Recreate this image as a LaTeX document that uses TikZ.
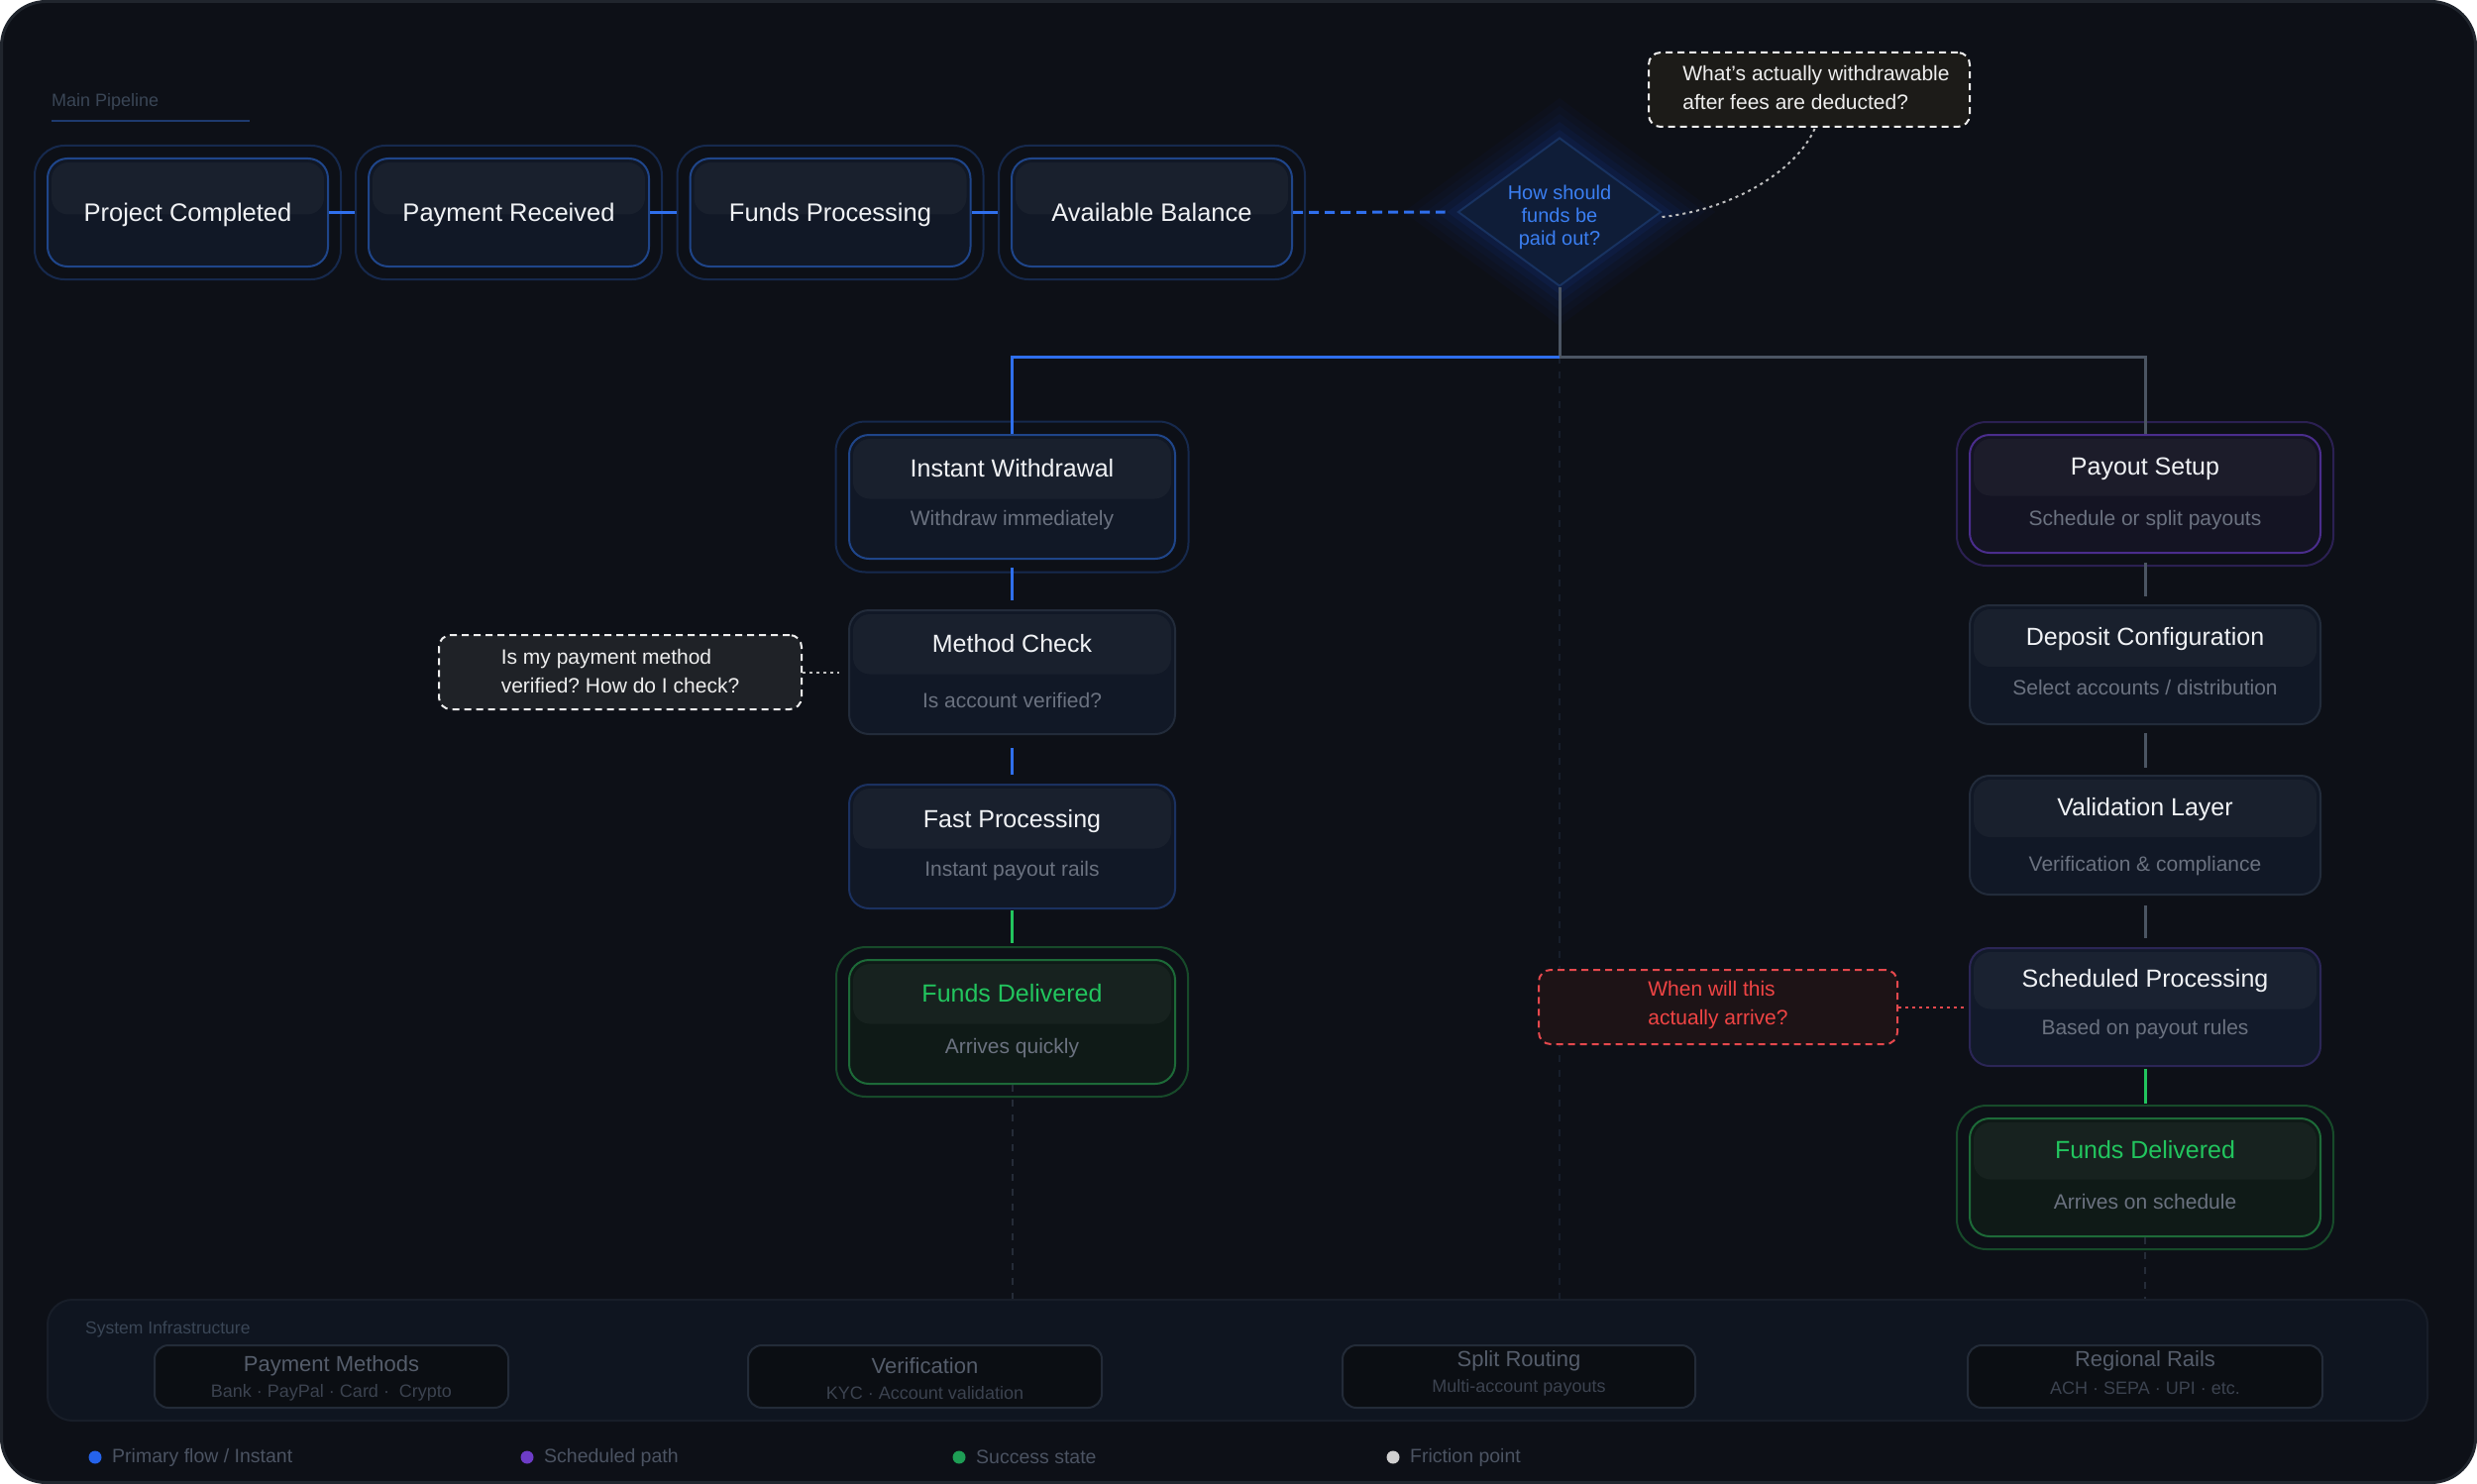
\documentclass[tikz,border=0pt]{standalone}
\usepackage{fontspec}
\setmainfont{Liberation Sans}
\usetikzlibrary{shapes.geometric,fit,calc}
\newcommand\myfs[2]{\fontsize{#1}{#2}\selectfont}
\frenchspacing
\definecolor{bg}{HTML}{0D1017}
\definecolor{frame}{HTML}{20252D}
\definecolor{cardfill}{HTML}{111826}
\definecolor{pblue}{HTML}{1F4589}
\definecolor{phalo}{HTML}{16294D}
\definecolor{fpblue}{HTML}{1B3160}
\definecolor{cgray}{HTML}{222B3A}
\definecolor{pfill}{HTML}{141423}
\definecolor{pborder}{HTML}{4A2D8C}
\definecolor{phalop}{HTML}{2B2052}
\definecolor{spborder}{HTML}{2B2656}
\definecolor{spfill}{HTML}{121A2A}
\definecolor{gfill}{HTML}{0F1A17}
\definecolor{gborder}{HTML}{1D6A38}
\definecolor{ghalo}{HTML}{174A2A}
\definecolor{gtext}{HTML}{22C55E}
\definecolor{ttlc}{HTML}{F0F2F5}
\definecolor{subc}{HTML}{6B7280}
\definecolor{lblue}{HTML}{2F6FED}
\definecolor{lgray}{HTML}{4B5563}
\definecolor{lgreen}{HTML}{22C55E}
\definecolor{diafill}{HTML}{0F1D38}
\definecolor{diaborder}{HTML}{183260}
\definecolor{diatext}{HTML}{3B7FF2}
\definecolor{glowc}{HTML}{1D4ED8}
\definecolor{tcfill}{HTML}{1C1B18}
\definecolor{lcfill}{HTML}{1F2227}
\definecolor{rcfill}{HTML}{1D1316}
\definecolor{redb}{HTML}{E5484D}
\definecolor{redt}{HTML}{EF4444}
\definecolor{cotc}{HTML}{EEEEEE}
\definecolor{infrafill}{HTML}{0F1520}
\definecolor{infraborder}{HTML}{181E29}
\definecolor{ibfill}{HTML}{0B0E13}
\definecolor{ibborder}{HTML}{232B38}
\definecolor{ibttl}{HTML}{555D6B}
\definecolor{ibsub}{HTML}{3C4350}
\definecolor{legc}{HTML}{4B5362}
\definecolor{labc}{HTML}{3A4656}
\definecolor{ulc}{HTML}{1E3A6E}
\definecolor{faintc}{HTML}{252C38}
\definecolor{faintc2}{HTML}{171E2B}
\definecolor{dotblue}{HTML}{2563EB}
\definecolor{dotpurple}{HTML}{6D3CC8}
\definecolor{dotgreen}{HTML}{1E9E55}
\definecolor{dotwhite}{HTML}{D0D0D0}
\begin{document}
\begin{tikzpicture}[x=1pt,y=-1pt,
  bandpic/.style={path picture={\fill[white,fill opacity=0.035,rounded corners=17pt]
     ([xshift=4pt,yshift=-4pt]path picture bounding box.north west) rectangle
     ([xshift=-4pt,yshift=-2pt]path picture bounding box.east);}},
  card/.style={rectangle, rounded corners=20pt, line width=2pt, inner sep=0pt, fill=cardfill, bandpic},
  halo/.style={rectangle, rounded corners=30pt, line width=2pt, inner sep=12pt, fill=none},
  ptxt/.style={font=\myfs{25.5}{30}, text=ttlc, inner sep=0pt, text height=18pt, text depth=0pt},
  ttl/.style={font=\myfs{25}{30}, text=ttlc, inner sep=0pt, text height=18pt, text depth=0pt},
  gttl/.style={ttl, text=gtext},
  subt/.style={font=\myfs{21}{26}, text=subc, inner sep=0pt, text height=15pt, text depth=0pt},
  bline/.style={draw=lblue, line width=3pt},
  gline/.style={draw=lgray, line width=3pt},
  grline/.style={draw=lgreen, line width=3pt},
  faintd/.style={draw=faintc, line width=2pt, dash pattern=on 7pt off 8pt},
  faintd2/.style={draw=faintc2, line width=2pt, dash pattern=on 7pt off 8pt},
  callout/.style={rectangle, rounded corners=12pt, line width=2pt, dash pattern=on 7pt off 5pt, inner sep=0pt},
  cotxt/.style={font=\myfs{21}{29}, align=left, inner sep=0pt},
  dotw/.style={draw=white!75!black, line width=2pt, dash pattern=on 3pt off 4pt},
  dotr/.style={draw=redb, line width=2pt, dash pattern=on 3pt off 4pt},
  ibox/.style={rectangle, rounded corners=14pt, line width=2pt, fill=ibfill, draw=ibborder, inner sep=0pt, minimum height=63pt},
  ibttl/.style={font=\myfs{22}{26}, text=ibttl, inner sep=0pt},
  ibsub/.style={font=\myfs{18}{22}, text=ibsub, inner sep=0pt},
  legtxt/.style={font=\myfs{19.5}{24}, text=legc, inner sep=0pt, anchor=west}
]
\useasboundingbox (0,0) rectangle (2500,1498);
\fill[white] (0,0) rectangle (2500,1498);
\draw[fill=bg, draw=frame, line width=3pt, rounded corners=45pt] (1.5,1.5) rectangle (2498.5,1496.5);

% Main pipeline label
\node[anchor=west, inner sep=0pt, font=\myfs{18}{22}, text=labc] (mpl) at (52,103) {Main Pipeline};
\draw[ulc, line width=2pt] (52,122) -- (252,122);

\coordinate (jn) at (1574,360);

% infrastructure panel
\node[rectangle, rounded corners=25pt, fill=infrafill, draw=infraborder, line width=2pt,
      minimum width=2402pt, minimum height=122pt, inner sep=0pt] (infra) at (1249,1373) {};
\draw[faintd2] (jn) -- (jn |- infra.north);

% pipeline cards
\node[card, draw=pblue, minimum width=283pt, minimum height=109pt] (pc) at (189.5,214.5) {};
\node[ptxt] (pcT) at (pc.center) {Project Completed};
\node[halo, draw=phalo, fit=(pc)] (pcH) {};
\node[card, draw=pblue, minimum width=283pt, minimum height=109pt] (pr) at (513.5,214.5) {};
\node[ptxt] (prT) at (pr.center) {Payment Received};
\node[halo, draw=phalo, fit=(pr)] (prH) {};
\node[card, draw=pblue, minimum width=283pt, minimum height=109pt] (fpr) at (838,214.5) {};
\node[ptxt] (fprT) at (fpr.center) {Funds Processing};
\node[halo, draw=phalo, fit=(fpr)] (fprH) {};
\node[card, draw=pblue, minimum width=283pt, minimum height=109pt] (ab) at (1162.5,214.5) {};
\node[ptxt] (abT) at (ab.center) {Available Balance};
\node[halo, draw=phalo, fit=(ab)] (abH) {};

\draw[bline] (pc.east) -- (prH.west);
\draw[bline] (pr.east) -- (fprH.west);
\draw[bline] (fpr.east) -- (abH.west);

% diamond with glow
\foreach \g/\op in {40/0.03,32/0.035,24/0.045,16/0.06,8/0.08} {
  \fill[glowc, opacity=\op] (1574,139-\g) -- (1676.5+\g*1.37,214) -- (1574,289+\g) -- (1471.5-\g*1.37,214) -- cycle;
}
\node[diamond, aspect=1.37, minimum width=205pt, minimum height=150pt, inner sep=0pt,
      fill=diafill, draw=diaborder, line width=2pt] (dia) at (1574,214) {};
\node[font=\myfs{20}{23}, text=diatext, align=center, inner sep=0pt] (diaT) at (1574,219) {How should\\funds be\\paid out?};
\draw[bline, dash pattern=on 10pt off 6pt] (ab.east) -- ([xshift=-12pt]dia.west);

% top callout
\node[callout, draw=cotc, fill=tcfill, minimum width=324pt, minimum height=75pt] (tc) at (1826,90.5) {};
\node[cotxt, text=cotc] (tcT) at (1833,88) {What's actually withdrawable\\after fees are deducted?};
\draw[dotw] ([yshift=-5pt]dia.east) .. controls (1745,212) and (1812,175) .. ([xshift=6pt]tc.south);

% left column
\node[card, draw=pblue, minimum width=329pt, minimum height=125pt] (iw) at (1021.5,501.5) {};
\node[ttl] (iwT) at ([yshift=-34pt]iw.north) {Instant Withdrawal};
\node[subt] (iwS) at ([yshift=-85pt]iw.north) {Withdraw immediately};
\node[halo, draw=phalo, fit=(iw), inner sep=12.5pt] (iwH) {};

\node[card, draw=cgray, minimum width=329pt, minimum height=125pt] (mc) at (1021.5,678.5) {};
\node[ttl] (mcT) at ([yshift=-34pt]mc.north) {Method Check};
\node[subt] (mcS) at ([yshift=-92pt]mc.north) {Is account verified?};

\node[card, draw=fpblue, minimum width=329pt, minimum height=125pt] (fp) at (1021.5,854.5) {};
\node[ttl] (fpT) at ([yshift=-35pt]fp.north) {Fast Processing};
\node[subt] (fpS) at ([yshift=-86pt]fp.north) {Instant payout rails};

\node[card, draw=gborder, fill=gfill, minimum width=329pt, minimum height=125pt] (fdl) at (1021.5,1031.5) {};
\node[gttl] (fdlT) at ([yshift=-34pt]fdl.north) {Funds Delivered};
\node[subt] (fdlS) at ([yshift=-88pt]fdl.north) {Arrives quickly};
\node[halo, draw=ghalo, fit=(fdl), inner sep=12pt] (fdlH) {};

% right column
\node[card, draw=pborder, fill=pfill, minimum width=354pt, minimum height=119pt] (ps) at (2165,498.5) {};
\node[ttl] (psT) at ([yshift=-32pt]ps.north) {Payout Setup};
\node[subt] (psS) at ([yshift=-85pt]ps.north) {Schedule or split payouts};
\node[halo, draw=phalop, fit=(ps), inner sep=12pt] (psH) {};

\node[card, draw=cgray, minimum width=354pt, minimum height=120pt] (dc) at (2165,671) {};
\node[ttl] (dcT) at ([yshift=-32pt]dc.north) {Deposit Configuration};
\node[subt] (dcS) at ([yshift=-84pt]dc.north) {Select accounts / distribution};

\node[card, draw=cgray, minimum width=354pt, minimum height=120pt] (vl) at (2165,843) {};
\node[ttl] (vlT) at ([yshift=-32pt]vl.north) {Validation Layer};
\node[subt] (vlS) at ([yshift=-90pt]vl.north) {Verification \& compliance};

\node[card, draw=spborder, fill=spfill, minimum width=354pt, minimum height=119pt] (sp) at (2165,1016.5) {};
\node[ttl] (spT) at ([yshift=-31pt]sp.north) {Scheduled Processing};
\node[subt] (spS) at ([yshift=-81pt]sp.north) {Based on payout rules};

\node[card, draw=gborder, fill=gfill, minimum width=354pt, minimum height=119pt] (fdr) at (2165,1188.5) {};
\node[gttl] (fdrT) at ([yshift=-32pt]fdr.north) {Funds Delivered};
\node[subt] (fdrS) at ([yshift=-85pt]fdr.north) {Arrives on schedule};
\node[halo, draw=ghalo, fit=(fdr), inner sep=12pt] (fdrH) {};

% branch connectors
\draw[gline] (dia.south) -- (jn);
\draw[gline] (jn) -| (ps.north);
\draw[bline] (jn) -| (iw.north);

% column connectors
\draw[bline] ([yshift=-8pt]iw.south) -- ([yshift=9pt]mc.north);
\draw[bline] ([yshift=-13pt]mc.south) -- ([yshift=9pt]fp.north);
\draw[grline] ([yshift=-1pt]fp.south) -- ([yshift=16pt]fdl.north);
\draw[faintd] (fdl.south) -- (fdl.south |- infra.north);
\draw[gline] ([yshift=-9pt]ps.south) -- ([yshift=8pt]dc.north);
\draw[gline] ([yshift=-8pt]dc.south) -- ([yshift=7pt]vl.north);
\draw[gline] ([yshift=-10pt]vl.south) -- ([yshift=9pt]sp.north);
\draw[grline] ([yshift=-2pt]sp.south) -- ([yshift=14pt]fdr.north);
\draw[faintd] (fdr.south) -- (fdr.south |- infra.north);

% left callout
\node[callout, draw=cotc, fill=lcfill, minimum width=366pt, minimum height=75pt] (lc) at (626,678.5) {};
\node[cotxt, text=cotc] (lcT) at (626,677) {Is my payment method\\verified? How do I check?};
\draw[dotw] (lc.east) -- ([xshift=-9pt]mc.west);

% red callout
\node[callout, draw=redb, fill=rcfill, minimum width=362pt, minimum height=75pt] (rc) at (1734,1016.5) {};
\node[cotxt, text=redt] (rcT) at (1734,1015) {When will this\\actually arrive?};
\draw[dotr] (rc.east) -- ([xshift=-4pt]sp.west);

% infrastructure contents
\node[anchor=west, inner sep=0pt, font=\myfs{17.5}{21}, text=labc] (infraL) at (86,1342) {System Infrastructure};
\node[ibox, minimum width=357pt] (pm) at (334.5,1389.5) {};
\node[ibttl] (pmT) at (334.5,1379) {Payment Methods};
\node[ibsub] (pmS) at (334.5,1406) {Bank · PayPal · Card ·\ \ Crypto};
\node[ibox, minimum width=357pt] (ver) at (933.5,1389.5) {};
\node[ibttl] (verT) at (933.5,1379) {Verification};
\node[ibsub] (verS) at (933.5,1406) {KYC · Account validation};
\node[ibox, minimum width=356pt] (sr) at (1533,1389.5) {};
\node[ibttl] (srT) at (1533,1374) {Split Routing};
\node[ibsub] (srS) at (1533,1401) {Multi-account payouts};
\node[ibox, minimum width=358pt] (rr) at (2165,1389.5) {};
\node[ibttl] (rrT) at (2165,1374) {Regional Rails};
\node[ibsub] (rrS) at (2165,1401) {ACH · SEPA · UPI · etc.};

% legend
\fill[dotblue] (96,1471) circle (6.5pt);
\node[legtxt] (lg1) at (113,1471) {Primary flow / Instant};
\fill[dotpurple] (532,1471) circle (6.5pt);
\node[legtxt] (lg2) at (549,1471) {Scheduled path};
\fill[dotgreen] (968,1471) circle (6.5pt);
\node[legtxt] (lg3) at (985,1471) {Success state};
\fill[dotwhite] (1406,1471) circle (6.5pt);
\node[legtxt] (lg4) at (1423,1471) {Friction point};
\end{tikzpicture}
\end{document}
